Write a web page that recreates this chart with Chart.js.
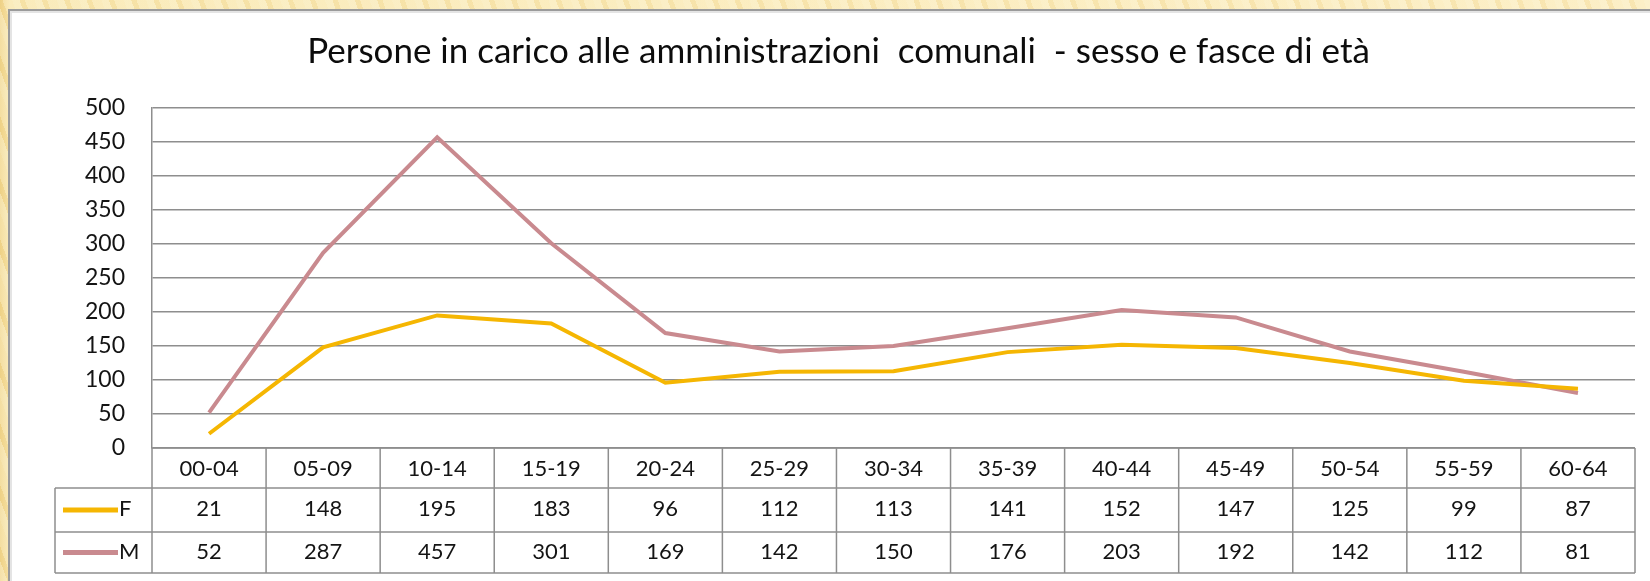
<!DOCTYPE html>
<html>
<head>
<meta charset="utf-8">
<script src="https://cdn.jsdelivr.net/npm/chart.js"></script>
<style>
  html, body { margin: 0; padding: 0; }
  body {
    width: 1650px; height: 581px; overflow: hidden; position: relative;
    background:
      repeating-linear-gradient(70deg, rgba(255,252,235,0.35) 0 7px, rgba(236,205,130,0.18) 7px 12px, rgba(255,248,222,0.3) 12px 21px),
      linear-gradient(90deg, #efd286 0, #f8e6ad 10px, #fbebbc 100%);
  }
  .panel {
    position: absolute; left: 8px; top: 9px; width: 1660px; height: 600px;
    background: #fff; border: 2px solid #9b9b9b;
    box-shadow: inset 0 0 0 2px #e4e4e4;
  }
  canvas { position: absolute; left: 0; top: 0; }
</style>
</head>
<body>
<div class="panel"></div>
<canvas id="chart" width="1650" height="581"></canvas>
<script>
const ageBands = ['00-04', '05-09', '10-14', '15-19', '20-24', '25-29', '30-34',
                  '35-39', '40-44', '45-49', '50-54', '55-59', '60-64'];
const femmine = [21, 148, 195, 183, 96, 112, 113, 141, 152, 147, 125, 99, 87];
const maschi = [52, 287, 457, 301, 169, 142, 150, 176, 203, 192, 142, 112, 81];
const yMax = 500;
const yStep = 50;

const gridColor = '#8e8e8e';
const textColor = '#141414';
const fontFamily = 'Lato, "Open Sans", sans-serif';

// table rows under the plot (y coordinates of the row edges)
const rowTop = 448, rowF = 488, rowM = 532, rowBottom = 573;
const legendLeft = 55;

const dataTable = {
    id: 'dataTable',
    afterDraw(chart) {
        const ctx = chart.ctx;
        const x = chart.scales.x;
        const area = chart.chartArea;
        const colW = (area.right - area.left) / ageBands.length;
        ctx.save();
        ctx.strokeStyle = gridColor;
        ctx.lineWidth = 1.5;
        ctx.beginPath();
        // horizontal rules
        ctx.moveTo(area.left, rowTop); ctx.lineTo(area.right, rowTop);
        [rowF, rowM, rowBottom].forEach(y => {
            ctx.moveTo(legendLeft, y); ctx.lineTo(area.right, y);
        });
        // vertical rules
        for (let i = 0; i <= ageBands.length; i++) {
            const px = area.left + i * colW;
            ctx.moveTo(px, rowTop); ctx.lineTo(px, rowBottom);
        }
        ctx.moveTo(legendLeft, rowF); ctx.lineTo(legendLeft, rowBottom);
        ctx.stroke();

        ctx.fillStyle = textColor;
        ctx.font = '22px ' + fontFamily;
        ctx.textAlign = 'center';
        ctx.textBaseline = 'middle';
        const rows = [rowTop, rowF, rowM, rowBottom];
        ageBands.forEach((lab, i) => {
            const cx = x.getPixelForValue(i);
            ctx.fillText(lab, cx, (rows[0] + rows[1]) / 2 + 1);
            chart.data.datasets.forEach((ds, d) => {
                ctx.fillText(String(ds.data[i]), cx, (rows[d + 1] + rows[d + 2]) / 2 - 1);
            });
        });

        // legend keys in the first column
        chart.data.datasets.forEach((ds, d) => {
            const cy = (rows[d + 1] + rows[d + 2]) / 2;
            ctx.strokeStyle = ds.borderColor;
            ctx.lineWidth = 5;
            ctx.beginPath();
            ctx.moveTo(63, cy); ctx.lineTo(118, cy);
            ctx.stroke();
            ctx.fillStyle = textColor;
            ctx.textAlign = 'left';
            ctx.fillText(ds.label, 119, cy - 1);
        });
        ctx.restore();
    }
};

new Chart(document.getElementById('chart'), {
    type: 'line',
    data: {
        labels: ageBands,
        datasets: [
            { label: 'F', data: femmine, borderColor: '#f5b602', backgroundColor: '#f5b602' },
            { label: 'M', data: maschi, borderColor: '#c98a8f', backgroundColor: '#c98a8f' }
        ]
    },
    options: {
        responsive: false,
        animation: false,
        layout: { padding: { left: 42, top: 0, right: 15, bottom: 133 } },
        elements: {
            line: { borderWidth: 4, tension: 0, borderCapStyle: 'butt', borderJoinStyle: 'miter' },
            point: { radius: 0, hoverRadius: 0 }
        },
        plugins: {
            legend: { display: false },
            tooltip: { enabled: false },
            title: {
                display: true,
                text: 'Persone in carico alle amministrazioni  comunali  - sesso e fasce di età',
                color: '#0c0c0c',
                font: { family: fontFamily, size: 35, weight: 'normal', lineHeight: 1.2 },
                padding: { top: 31, bottom: 35 }
            }
        },
        scales: {
            x: { display: false, offset: true },
            y: {
                min: 0,
                max: yMax,
                afterFit(scale) { scale.width = 110; },
                ticks: {
                    stepSize: yStep,
                    padding: 27,
                    color: textColor,
                    font: { family: fontFamily, size: 23 }
                },
                grid: { color: gridColor, lineWidth: 1.5, drawTicks: false },
                border: { color: gridColor, width: 1.5 }
            }
        }
    },
    plugins: [dataTable]
});
</script>
</body>
</html>
